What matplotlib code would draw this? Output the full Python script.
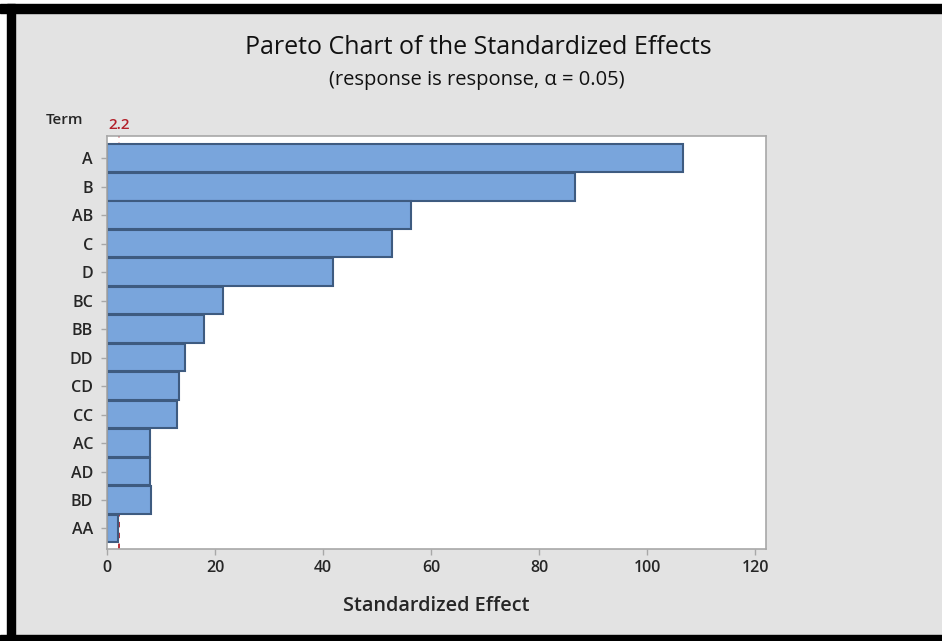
import matplotlib
matplotlib.use("Agg")
import matplotlib.pyplot as plt
from matplotlib.patches import Rectangle

terms = ["A", "B", "AB", "C", "D", "BC", "BB", "DD", "CD", "CC", "AC", "AD", "BD", "AA"]
effects = [106.7, 86.7, 56.3, 52.8, 41.9, 21.5, 18.0, 14.5, 13.4, 12.9, 8.0, 8.0, 8.1, 2.1]
critical = 2.2
xticks = [0, 20, 40, 60, 80, 100, 120]

plt.rcParams['font.family'] = ['Open Sans', 'DejaVu Sans']

W, H = 942, 641
fig = plt.figure(figsize=(W / 100, H / 100), dpi=100)
fig.patch.set_facecolor('#e3e3e3')

# outer frame (white margin + black border)
def px_rect(x0, y0, x1, y1, color):
    fig.patches.append(Rectangle((x0 / W, 1 - y1 / H), (x1 - x0) / W, (y1 - y0) / H,
                                 transform=fig.transFigure, color=color, zorder=-5))
px_rect(0, 0, W, 4, 'white')
px_rect(0, 0, 7, H, 'white')
px_rect(0, 4, W, 13, 'black')
px_rect(7, 4, 15, H, 'black')
px_rect(0, 635, W, H, 'black')

ax = fig.add_axes([107 / W, 1 - 549 / H, (766 - 107) / W, (549 - 136) / H])
ax.set_facecolor('white')

ypos = list(range(len(terms)))
ax.axvline(critical, color='#b3202a', linestyle=(0, (3, 3)), linewidth=1.3, zorder=1)
ax.barh(ypos, effects, height=0.97, color='#79a5dc', edgecolor='#3e5b80',
        linewidth=1.5, zorder=2)

ax.set_xlim(0, 122)
ax.set_ylim(13.72, -0.78)
ax.set_yticks(ypos)
ax.set_yticklabels(terms)
ax.set_xticks(xticks)
ax.set_xticklabels([str(t) for t in xticks])

for s in ax.spines.values():
    s.set_color('#a8a8a8')
    s.set_linewidth(1.2)
ax.tick_params(axis='both', colors='#a8a8a8', labelcolor='#262626', labelsize=11.5, width=1)
ax.tick_params(axis='y', length=4, pad=6)
ax.tick_params(axis='x', length=4, pad=4)
for lab in ax.get_xticklabels() + ax.get_yticklabels():
    lab.set_fontweight('semibold')

ax.set_xlabel('Standardized Effect', fontsize=14.3, fontweight='semibold', color='#262626', labelpad=14)

fig.text(478 / W, 1 - 48 / H, 'Pareto Chart of the Standardized Effects', ha='center', va='center',
         fontsize=18, fontweight='normal', color='#111111')
fig.text(477 / W, 1 - 80 / H, '(response is response, α = 0.05)', ha='center', va='center',
         fontsize=14.5, fontweight='normal', color='#111111')
fig.text(64 / W, 1 - 120 / H, 'Term', ha='center', va='center', fontsize=11,
         fontweight='semibold', color='#262626')
ax.text(critical, 1.01, '2.2', transform=ax.get_xaxis_transform(), ha='center', va='bottom',
        fontsize=11, color='#b3202a', fontweight='semibold')

fig.savefig('out.png', dpi=100, facecolor=fig.get_facecolor())
